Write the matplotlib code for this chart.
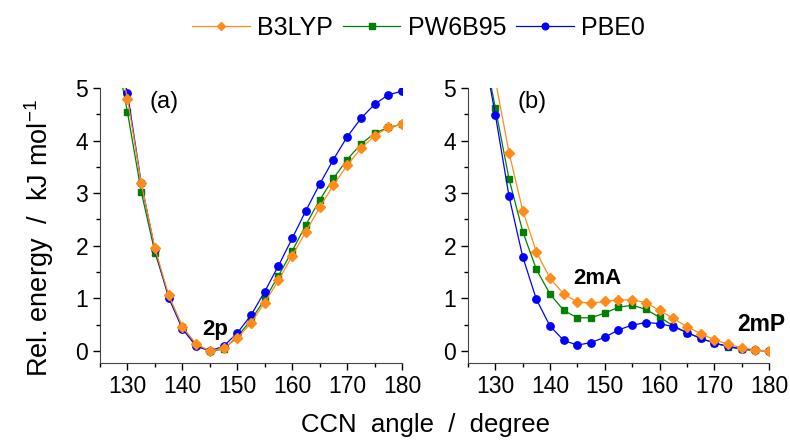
import matplotlib
matplotlib.use('Agg')
import matplotlib.pyplot as plt
from matplotlib.ticker import MultipleLocator

plt.rcParams.update({
    'font.family': ['Liberation Sans', 'DejaVu Sans'],
    'font.size': 16,
    'mathtext.fontset': 'custom',
    'mathtext.rm': 'Liberation Sans',
    'mathtext.default': 'regular',
})

# CCN angle in degree (first point lies above the plotted range)
angle = [127.5, 130, 132.5, 135, 137.5, 140, 142.5, 145, 147.5, 150, 152.5,
         155, 157.5, 160, 162.5, 165, 167.5, 170, 172.5, 175, 177.5, 180]

# panel (a)
b3lyp_a = [6.0, 4.80, 3.19, 1.95, 1.06, 0.46, 0.13, 0.00, 0.05, 0.24, 0.53,
           0.92, 1.34, 1.81, 2.27, 2.73, 3.15, 3.53, 3.85, 4.09, 4.25, 4.31]
pw6b95_a = [5.9, 4.54, 3.03, 1.87, 1.05, 0.45, 0.12, 0.00, 0.03, 0.27, 0.59,
            0.98, 1.43, 1.90, 2.40, 2.87, 3.28, 3.64, 3.93, 4.14, 4.25, 4.31]
pbe0_a = [6.0, 4.90, 3.20, 1.93, 1.01, 0.42, 0.09, 0.00, 0.09, 0.34, 0.68,
          1.13, 1.62, 2.14, 2.67, 3.17, 3.64, 4.07, 4.42, 4.69, 4.87, 4.94]

# panel (b)
b3lyp_b = [6.6, 5.15, 3.77, 2.67, 1.88, 1.38, 1.08, 0.93, 0.91, 0.94, 0.97,
           0.97, 0.92, 0.77, 0.62, 0.46, 0.33, 0.21, 0.13, 0.06, 0.02, 0.00]
pw6b95_b = [5.95, 4.62, 3.27, 2.27, 1.55, 1.08, 0.77, 0.63, 0.63, 0.72, 0.83,
            0.87, 0.79, 0.64, 0.48, 0.35, 0.24, 0.15, 0.08, 0.03, 0.01, 0.00]
pbe0_b = [5.9, 4.49, 2.94, 1.79, 0.98, 0.47, 0.20, 0.11, 0.16, 0.26, 0.40,
          0.49, 0.54, 0.52, 0.46, 0.35, 0.24, 0.15, 0.09, 0.04, 0.01, 0.00]

c_b3 = '#FF8C1A'
c_pw = '#008000'
c_pb = '#0000FF'

fig = plt.figure(figsize=(7.9, 4.44), dpi=100)
ax_a = fig.add_axes([0.1266, 0.1824, 0.3823, 0.6194])
ax_b = fig.add_axes([0.5924, 0.1824, 0.3810, 0.6194])

handles = {}
for ax, b3, pw, pb in [(ax_a, b3lyp_a, pw6b95_a, pbe0_a),
                       (ax_b, b3lyp_b, pw6b95_b, pbe0_b)]:
    h_pw, = ax.plot(angle, pw, '-s', color=c_pw, lw=0.9, ms=4.8, label='PW6B95')
    h_pb, = ax.plot(angle, pb, '-o', color=c_pb, lw=0.9, ms=5.3, label='PBE0')
    h_b3, = ax.plot(angle, b3, '-D', color=c_b3, lw=0.9, ms=4.8, label='B3LYP')
    handles = {'B3LYP': h_b3, 'PW6B95': h_pw, 'PBE0': h_pb}

    ax.set_xlim(125, 180)
    ax.set_ylim(-0.23, 5.0)
    ax.xaxis.set_major_locator(MultipleLocator(10))
    ax.xaxis.set_minor_locator(MultipleLocator(5))
    ax.yaxis.set_major_locator(MultipleLocator(1))
    ax.yaxis.set_minor_locator(MultipleLocator(0.5))
    ax.tick_params(which='major', direction='out', length=5, width=1, labelsize=16.5)
    ax.tick_params(which='minor', direction='out', length=3, width=1)
    ax.spines['top'].set_visible(False)
    ax.spines['right'].set_visible(False)
    for s in ('left', 'bottom'):
        ax.spines[s].set_color('#444444')

ax_a.text(134.0, 4.74, '(a)', fontsize=17, va='center', ha='left')
ax_b.text(134.1, 4.73, '(b)', fontsize=17, va='center', ha='left')
ax_a.text(146.0, 0.30, '2p', fontsize=16, fontweight='bold', ha='center', va='baseline')
ax_b.text(148.6, 1.27, '2mA', fontsize=16, fontweight='bold', ha='center', va='baseline')
ax_b.text(174.2, 0.38, '2mP', fontsize=16.5, fontweight='bold', ha='left', va='baseline',
          clip_on=False)

fig.legend([handles['B3LYP'], handles['PW6B95'], handles['PBE0']],
           ['B3LYP', 'PW6B95', 'PBE0'], loc='upper center',
           bbox_to_anchor=(0.53, 1.015), ncol=3, frameon=False, fontsize=18,
           handlelength=2.3, handletextpad=0.3, columnspacing=0.4, markerscale=0.9)

fig.text(0.538, 0.043, 'CCN  angle  /  degree', fontsize=18.5, ha='center', va='center')
fig.text(0.049, 0.464, 'Rel. energy  /  kJ mol$^{-1}$', fontsize=19.5,
         ha='center', va='center', rotation=90)

fig.savefig('out.png', dpi=100, facecolor='white')
